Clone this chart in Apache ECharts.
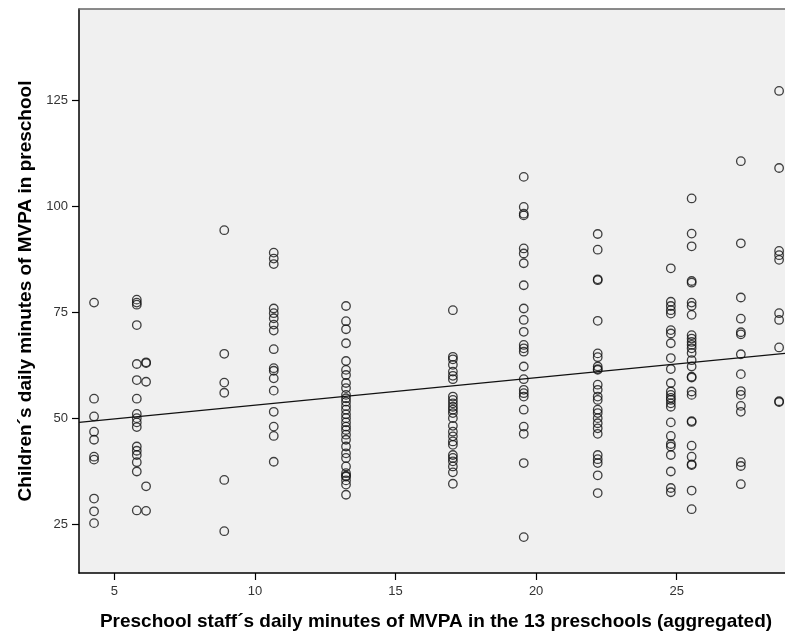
<!DOCTYPE html>
<html>
<head>
<meta charset="utf-8">
<script src="https://cdn.jsdelivr.net/npm/echarts@6/dist/echarts.min.js"></script>
<style>
  html, body { margin: 0; padding: 0; background: #fff; overflow: hidden; }
  #chart { width: 785px; height: 632px; }
</style>
</head>
<body>
<div id="chart"></div>
<script>
// staff MVPA per preschool (x) and children's MVPA values
const schoolX = [4.28, 5.8, 6.13, 8.91, 10.67, 13.24, 17.04, 19.56, 22.19, 24.79, 25.53, 27.28, 28.64]
const childMinutes = [
  [77.3, 54.6, 50.4, 46.8, 44.9, 40.9, 40.2, 31.0, 28.0, 25.2],
  [78.0, 77.3, 76.8, 72.0, 62.8, 59.0, 54.6, 51.0, 50.0, 49.0, 47.9, 43.3, 42.3, 41.3, 39.6, 37.4, 28.2],
  [63.2, 63.0, 58.6, 33.9, 28.1],
  [94.4, 65.2, 58.4, 56.0, 35.4, 23.3],
  [89.1, 87.7, 86.4, 75.9, 74.8, 73.6, 72.1, 70.7, 66.3, 61.8, 61.2, 59.4, 56.5, 51.5, 48.0, 45.8, 39.7],
  [76.5, 72.9, 71.0, 67.7, 63.5, 61.4, 60.2, 58.3, 57.1, 55.5, 54.7, 53.9, 52.9, 52.0, 50.9, 50.0,
   49.0, 48.0, 47.2, 46.1, 44.9, 43.3, 41.7, 40.6, 38.6, 37.0, 36.4, 36.2, 35.3, 34.3, 31.9],
  [75.5, 64.5, 63.9, 62.6, 61.0, 60.0, 59.2, 55.1, 54.3, 53.5, 52.7, 52.0, 51.2, 50.0, 48.2, 46.8,
   45.7, 44.5, 43.7, 41.3, 40.6, 39.8, 38.6, 37.2, 34.5],
  [107.0, 99.9, 98.3, 97.9, 90.1, 88.9, 86.6, 81.4, 75.9, 73.2, 70.4, 67.3, 66.5, 65.7, 62.2, 59.2,
   56.7, 55.9, 55.1, 52.0, 48.0, 46.3, 39.4, 21.9],
  [93.5, 89.8, 82.8, 82.6, 73.0, 65.3, 64.4, 62.2, 61.6, 61.4, 57.9, 56.7, 55.1, 54.3, 52.0, 51.2,
   50.0, 48.8, 47.6, 46.3, 41.3, 40.3, 39.4, 36.5, 32.3],
  [85.4, 77.5, 76.5, 75.5, 74.7, 70.8, 70.0, 67.7, 64.2, 61.6, 58.3, 56.3, 55.5, 54.8, 54.3, 53.5,
   52.7, 49.0, 45.8, 43.9, 43.3, 41.3, 37.4, 33.5, 32.5],
  [101.9, 93.6, 90.6, 82.4, 82.0, 77.3, 76.5, 74.4, 69.6, 68.8, 68.0, 67.3, 66.5, 65.4, 63.7, 62.2,
   59.8, 59.6, 56.3, 55.5, 49.3, 49.1, 43.5, 40.9, 39.1, 38.9, 32.9, 28.5],
  [110.7, 91.3, 78.5, 73.5, 70.3, 69.8, 65.1, 60.4, 56.4, 55.5, 52.9, 51.5, 39.6, 38.7, 34.4],
  [127.3, 109.1, 89.5, 88.5, 87.4, 74.8, 73.2, 66.7, 54.0, 53.8]
]
// fit line end points
const fitLine = [[3.745, 49.0], [28.85, 65.3]]
const xTicks = [5, 10, 15, 20, 25]
const yTicks = [25, 50, 75, 100, 125]

let points = []
for (let i = 0; i < schoolX.length; i++) {
  childMinutes[i].forEach(v => points.push([schoolX[i], v]))
}

let myChart = echarts.init(document.getElementById('chart'))
const font = '"Liberation Sans", Arial, sans-serif'
let option = {
  animation: false,
  grid: {
    left: 79, top: 9, right: 0, bottom: 59,
    outerBoundsMode: 'none',
    show: true,
    backgroundColor: '#f0f0f0',
    borderWidth: 0
  },
  xAxis: [
    {
      type: 'value',
      min: 3.745,
      max: 28.85,
      name: 'Preschool staff´s daily minutes of MVPA in the 13 preschools (aggregated)',
      nameLocation: 'middle',
      nameGap: 39,
      nameTextStyle: { fontFamily: font, fontWeight: 'bold', fontSize: 19, color: '#000', verticalAlign: 'top', padding: [0, 0, 0, 8] },
      axisLine: { show: true, lineStyle: { color: '#000', width: 1.5 } },
      axisTick: { show: true, length: 7, customValues: xTicks, lineStyle: { color: '#000', width: 1.2 } },
      axisLabel: { customValues: xTicks, fontFamily: font, fontSize: 13, color: '#333', margin: 12 },
      splitLine: { show: false }
    },
    {
      // top frame line only
      type: 'value',
      position: 'top',
      min: 3.745,
      max: 28.85,
      axisLine: { show: true, lineStyle: { color: '#666', width: 1.5 } },
      axisTick: { show: false },
      axisLabel: { show: false },
      splitLine: { show: false }
    }
  ],
  yAxis: {
    type: 'value',
    min: 13.42,
    max: 146.66,
    name: 'Children´s daily minutes of MVPA in preschool',
    nameLocation: 'middle',
    nameGap: 44,
    nameTextStyle: { fontFamily: font, fontWeight: 'bold', fontSize: 19, color: '#000' },
    axisLine: { show: true, lineStyle: { color: '#000', width: 1.5 } },
    axisTick: { show: true, length: 7, customValues: yTicks, lineStyle: { color: '#000', width: 1.2 } },
    axisLabel: { customValues: yTicks, fontFamily: font, fontSize: 13, color: '#333', margin: 11 },
    splitLine: { show: false }
  },
  series: [
    {
      type: 'scatter',
      data: points,
      symbol: 'circle',
      symbolSize: 8.5,
      itemStyle: { color: 'transparent', borderColor: '#111', borderWidth: 1.3 },
      z: 3
    },
    {
      type: 'line',
      data: fitLine,
      symbol: 'none',
      lineStyle: { color: '#111', width: 1.3 },
      z: 4
    }
  ]
}
myChart.setOption(option)
</script>
</body>
</html>
